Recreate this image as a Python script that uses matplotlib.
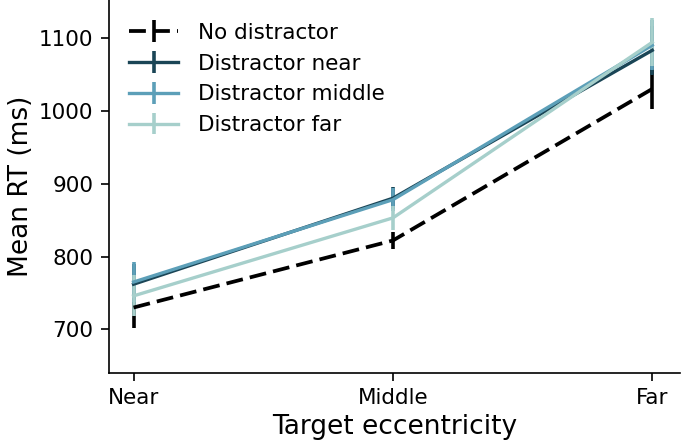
import matplotlib
matplotlib.use("Agg")
import matplotlib.pyplot as plt
import numpy as np

categories = ["Near", "Middle", "Far"]
labels = ["No distractor", "Distractor near", "Distractor middle", "Distractor far"]
means = {
    "No distractor": [730, 822, 1030],
    "Distractor near": [762, 880, 1083],
    "Distractor middle": [765, 878, 1090],
    "Distractor far": [746, 853, 1094],
}
errs = {
    "No distractor": [28, 12, 27],
    "Distractor near": [28, 15, 34],
    "Distractor middle": [28, 16, 34],
    "Distractor far": [28, 16, 33],
}
colors = ["black", "#1a4556", "#5c9fb8", "#a6cfcb"]
styles = ["--", "-", "-", "-"]

fig = plt.figure(figsize=(6.85, 4.4), dpi=100)
ax = fig.add_axes([0.159, 0.152, 0.833, 0.848])
x = np.arange(len(categories))
for lab, c, ls in zip(labels, colors, styles):
    lw = 2.7 if ls == "--" else 2.4
    cont = ax.errorbar(x, means[lab], yerr=errs[lab], color=c, linestyle=ls,
                       linewidth=lw, elinewidth=2.6, capsize=0, label=lab)
    if ls == "--":
        cont.lines[0].set_dashes((4.5, 1.9))
ax.set_xticks(x)
ax.set_xticklabels(categories)
ax.set_yticks([700, 800, 900, 1000, 1100])
ax.set_ylim(640, 1152)
ax.set_xlim(-0.095, 2.105)
ax.tick_params(labelsize=15.5, length=6, width=1.2, pad=5)
ax.set_xlabel("Target eccentricity", fontsize=19)
ax.set_ylabel("Mean RT (ms)", fontsize=19)
for s in ["top", "right"]:
    ax.spines[s].set_visible(False)
for s in ["left", "bottom"]:
    ax.spines[s].set_linewidth(1.2)
ax.legend(loc="upper left", frameon=False, fontsize=15.5, bbox_to_anchor=(0.02, 0.962),
          borderaxespad=0, handlelength=2.3, handletextpad=0.9, labelspacing=0.5)
fig.savefig("out.png", dpi=100)
